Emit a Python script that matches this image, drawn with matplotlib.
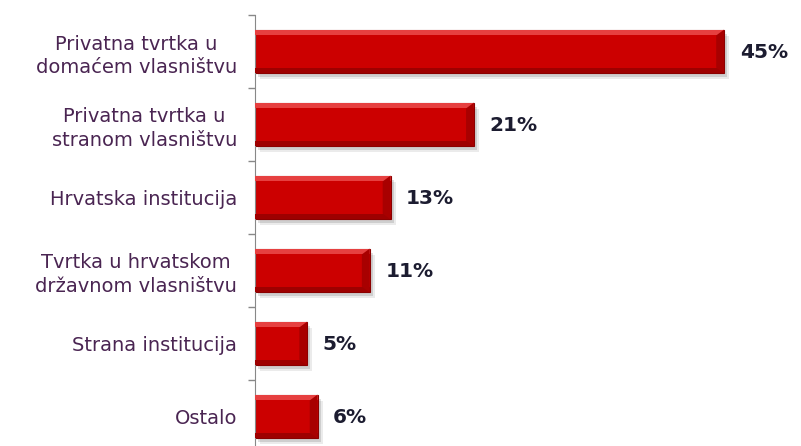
import numpy as np
import matplotlib.pyplot as plt
from matplotlib import transforms

categories = ['Privatna tvrtka u\ndomaćem vlasništvu',
              'Privatna tvrtka u\nstranom vlasništvu',
              'Hrvatska institucija',
              'Tvrtka u hrvatskom\ndržavnom vlasništvu',
              'Strana institucija',
              'Ostalo']
values = [45, 21, 13, 11, 5, 6]
labels = ['45%', '21%', '13%', '11%', '5%', '6%']

W, H = 801, 446
fig = plt.figure(figsize=(W/100, H/100), dpi=100)
# axes runs past the bottom edge, like the cropped original
ax = fig.add_axes([255/W, 1 - 453/H, (797 - 255)/W, 438/H])

y = np.arange(len(categories))
h = 0.6

# shadow
shadow = transforms.offset_copy(ax.transData, fig=fig, x=3, y=-4, units='dots')
ax.barh(y, values, height=h, color='#000000', alpha=0.12, transform=shadow, zorder=1)
ax.barh(y, values, height=h, color='#000000', alpha=0.08,
        transform=transforms.offset_copy(ax.transData, fig=fig, x=5, y=-6, units='dots'), zorder=1)

# main bar
ax.barh(y, values, height=h, color='#cc0000', edgecolor='#8a0000', linewidth=0.8, zorder=2)
# top highlight and bottom dark strip
ax.barh(y - h/2 + 0.04, values, height=0.07, color='#e64040', linewidth=0, zorder=3)
ax.barh(y + h/2 - 0.04, values, height=0.07, color='#9e0000', linewidth=0, zorder=3)
# right bevel
for yi, v in zip(y, values):
    bx = [v - 0.75, v, v, v - 0.75]
    by = [yi - h/2 + 0.08, yi - h/2, yi + h/2, yi + h/2 - 0.08]
    ax.fill(bx, by, color='#a80000', zorder=4, linewidth=0)

for yi, v, lab in zip(y, values, labels):
    ax.text(v + 1.5, yi + 0.02, lab, va='center', ha='left', fontsize=14.5,
            fontweight='bold', color='#1c1c30')

ax.set_xlim(0, 52)
ax.set_ylim(len(categories) - 0.5, -0.5)
ax.set_yticks(y)
ax.set_yticklabels(categories, fontsize=14, color='#4a2552', linespacing=1.3,
                   multialignment='center')
ax.set_yticks(np.arange(len(categories) + 1) - 0.5, minor=True)
ax.tick_params(axis='y', which='major', length=0, pad=13)
ax.tick_params(axis='y', which='minor', length=5, color='#888888', width=1)
ax.set_xticks([])
for s in ['top', 'right', 'bottom']:
    ax.spines[s].set_visible(False)
ax.spines['left'].set_color('#888888')
ax.patch.set_visible(False)

fig.savefig('out.png', dpi=100)
